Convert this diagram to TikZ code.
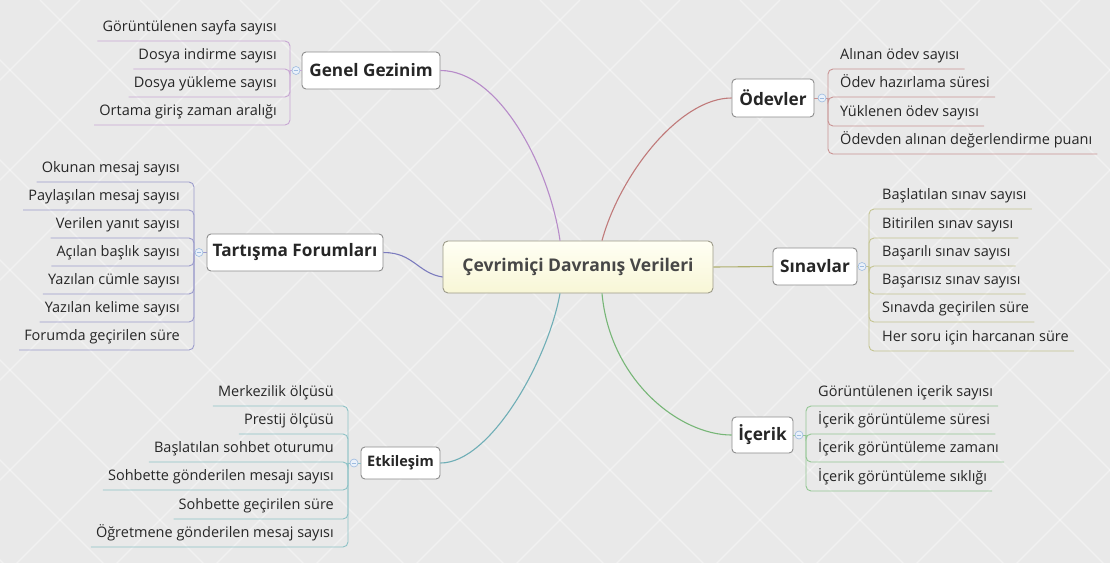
\documentclass[tikz,border=0pt]{standalone}
\usepackage{fontspec}
\setmainfont{Open Sans}
\definecolor{bgbase}{HTML}{E9E9E9}
\definecolor{ink}{HTML}{262626}
\definecolor{boxgray}{HTML}{8C8C8C}
\definecolor{rootedge}{HTML}{9C9A88}
\definecolor{roottop}{HTML}{FFFFF4}
\definecolor{rootbot}{HTML}{F8F6D6}
\definecolor{foldblue}{HTML}{9DBBE0}
\definecolor{foldfill}{HTML}{EAF1FA}
\definecolor{cgen}{HTML}{B78BC9}
\definecolor{cgenl}{HTML}{C7A6D3}
\definecolor{cfor}{HTML}{7C7CBE}
\definecolor{cforl}{HTML}{9C9CCC}
\definecolor{cetk}{HTML}{6FAEB6}
\definecolor{cetkl}{HTML}{8DC2C6}
\definecolor{codv}{HTML}{C07A7A}
\definecolor{codvl}{HTML}{C99393}
\definecolor{csin}{HTML}{AFB06E}
\definecolor{csinl}{HTML}{C4C490}
\definecolor{cice}{HTML}{77B677}
\definecolor{cicel}{HTML}{92C692}
\begin{document}
\begin{tikzpicture}[x=1pt,y=-1pt,
  topic/.style={draw=boxgray, fill=white, rounded corners=4pt, line width=0.9pt,
    font=\fontsize{17.2}{20}\selectfont\bfseries, text=ink, inner sep=0pt},
  rootbox/.style={draw=rootedge, top color=roottop, bottom color=rootbot, rounded corners=5pt,
    line width=0.9pt, font=\fontsize{17.5}{21}\selectfont\bfseries, text=ink!85, inner sep=0pt,
    minimum width=270pt, minimum height=52pt},
  leaf/.style={inner xsep=5pt, inner ysep=0pt, text height=10pt, text depth=9pt,
    font=\fontsize{14.5}{17}\selectfont, text=ink},
  lleaf/.style={leaf, anchor=south east},
  rleaf/.style={leaf, anchor=south west},
  fold/.style={circle, draw=foldblue, fill=foldfill, minimum size=8pt, inner sep=0pt, line width=0.6pt,
    path picture={\draw[foldblue, line width=0.6pt] ([xshift=-2.3pt]path picture bounding box.center) -- ([xshift=2.3pt]path picture bounding box.center);}},
  branch/.style={line width=1.1pt},
  twig/.style={line width=0.9pt, rounded corners=5pt},
  bgline/.style={white, line width=1.3pt, opacity=0.4}
]
\useasboundingbox (0,0) rectangle (1110,563);

% background with faint diamond lattice
\fill[bgbase] (0,0) rectangle (1110,563);
\begin{scope}
  \clip (0,0) rectangle (1110,563);
  \foreach \k in {-7,...,12} {
    \draw[bgline] (\k*100+40,0) -- ++(600,600);
    \draw[bgline] (\k*100+580,0) -- ++(-600,600);
  }
\end{scope}

% central topic
\node[rootbox] (root) at (578,267) {Çevrimiçi Davranış Verileri};

% main topics
\node[topic, minimum width=138pt, minimum height=37pt] (gen) at (371,70.5) {Genel Gezinim};
\node[topic, minimum width=176pt, minimum height=37pt] (for) at (295,252.5) {Tartışma Forumları};
\node[topic, minimum width=79pt, minimum height=32pt, font=\fontsize{14.5}{17}\selectfont\bfseries] (etk) at (400.5,463) {Etkileşim};
\node[topic, minimum width=82pt, minimum height=38pt] (odv) at (773,98) {Ödevler};
\node[topic, minimum width=84pt, minimum height=37pt] (sin) at (815,266.5) {Sınavlar};
\node[topic, minimum width=61pt, minimum height=36pt] (ice) at (762.5,435) {İçerik};

% links from the centre
\draw[branch, cgen] (gen.east) .. controls +(60,0) and +(-10,-71) .. ([xshift=-18pt]root.north);
\draw[branch, cfor] (for.east) .. controls +(30,0) and +(-25,-4) .. ([yshift=-10pt]root.west);
\draw[branch, cetk] (etk.east) .. controls +(50,0) and +(-12,67) .. ([xshift=-18pt]root.south);
\draw[branch, codv] (odv.west) .. controls +(-52,0) and +(18,-66) .. ([xshift=24pt]root.north);
\draw[branch, csin] (root.east) -- (sin.west);
\draw[branch, cice] (ice.west) .. controls +(-52,0) and +(8,87) .. ([xshift=24pt]root.south);

% junctions of the sub-topic brackets
\coordinate (gj) at (290,70.5);
\coordinate (fj) at (194,252.5);
\coordinate (ej) at (348,463);
\coordinate (oj) at (828,98);
\coordinate (sj) at (869,266.5);
\coordinate (ij) at (806,435);

% Genel Gezinim
\node[lleaf] (g1) at (282,41) {Görüntülenen sayfa sayısı};
\node[lleaf] (g2) at (282,69) {Dosya indirme sayısı};
\node[lleaf] (g3) at (282,97) {Dosya yükleme sayısı};
\node[lleaf] (g4) at (282,125) {Ortama giriş zaman aralığı};
\draw[twig, cgenl] (gen.west) -- (gj);
\foreach \c in {g1,g2,g3,g4} \draw[twig, cgenl] (gj) |- (\c.south west);

% Tartışma Forumları
\node[lleaf] (t1) at (185,182) {Okunan mesaj sayısı};
\node[lleaf] (t2) at (185,210) {Paylaşılan mesaj sayısı};
\node[lleaf] (t3) at (185,238) {Verilen yanıt sayısı};
\node[lleaf] (t4) at (185,266) {Açılan başlık sayısı};
\node[lleaf] (t5) at (185,294) {Yazılan cümle sayısı};
\node[lleaf] (t6) at (185,322) {Yazılan kelime sayısı};
\node[lleaf] (t7) at (185,350) {Forumda geçirilen süre};
\draw[twig, cforl] (for.west) -- (fj);
\foreach \c in {t1,t2,t3,t4,t5,t6,t7} \draw[twig, cforl] (fj) |- (\c.south west);

% Etkileşim
\node[lleaf] (e1) at (339,406) {Merkezilik ölçüsü};
\node[lleaf] (e2) at (339,434) {Prestij ölçüsü};
\node[lleaf] (e3) at (339,462) {Başlatılan sohbet oturumu};
\node[lleaf] (e4) at (339,490) {Sohbette gönderilen mesajı sayısı};
\node[lleaf] (e5) at (339,519) {Sohbette geçirilen süre};
\node[lleaf] (e6) at (339,547) {Öğretmene gönderilen mesaj sayısı};
\draw[twig, cetkl] (etk.west) -- (ej);
\foreach \c in {e1,e2,e3,e4,e5,e6} \draw[twig, cetkl] (ej) |- (\c.south west);

% Ödevler
\node[rleaf] (o1) at (835,69) {Alınan ödev sayısı};
\node[rleaf] (o2) at (835,97) {Ödev hazırlama süresi};
\node[rleaf] (o3) at (835,126) {Yüklenen ödev sayısı};
\node[rleaf] (o4) at (835,154) {Ödevden alınan değerlendirme puanı};
\draw[twig, codvl] (odv.east) -- (oj);
\foreach \c in {o1,o2,o3,o4} \draw[twig, codvl] (oj) |- (\c.south east);

% Sınavlar
\node[rleaf] (s1) at (877,209) {Başlatılan sınav sayısı};
\node[rleaf] (s2) at (877,238) {Bitirilen sınav sayısı};
\node[rleaf] (s3) at (877,266) {Başarılı sınav sayısı};
\node[rleaf] (s4) at (877,294) {Başarısız sınav sayısı};
\node[rleaf] (s5) at (877,322) {Sınavda geçirilen süre};
\node[rleaf] (s6) at (877,351) {Her soru için harcanan süre};
\draw[twig, csinl] (sin.east) -- (sj);
\foreach \c in {s1,s2,s3,s4,s5,s6} \draw[twig, csinl] (sj) |- (\c.south east);

% İçerik
\node[rleaf] (i1) at (813,406) {Görüntülenen içerik sayısı};
\node[rleaf] (i2) at (813,434) {İçerik görüntüleme süresi};
\node[rleaf] (i3) at (813,462) {İçerik görüntüleme zamanı};
\node[rleaf] (i4) at (813,491) {İçerik görüntüleme sıklığı};
\draw[twig, cicel] (ice.east) -- (ij);
\foreach \c in {i1,i2,i3,i4} \draw[twig, cicel] (ij) |- (\c.south east);

% collapse markers
\node[fold] (gfold) at (296,70.5) {};
\node[fold] (ffold) at (199,252.5) {};
\node[fold] (efold) at (354,463) {};
\node[fold] (ofold) at (822,98) {};
\node[fold] (sfold) at (862,266.5) {};
\node[fold] (ifold) at (799,435) {};
\end{tikzpicture}
\end{document}
